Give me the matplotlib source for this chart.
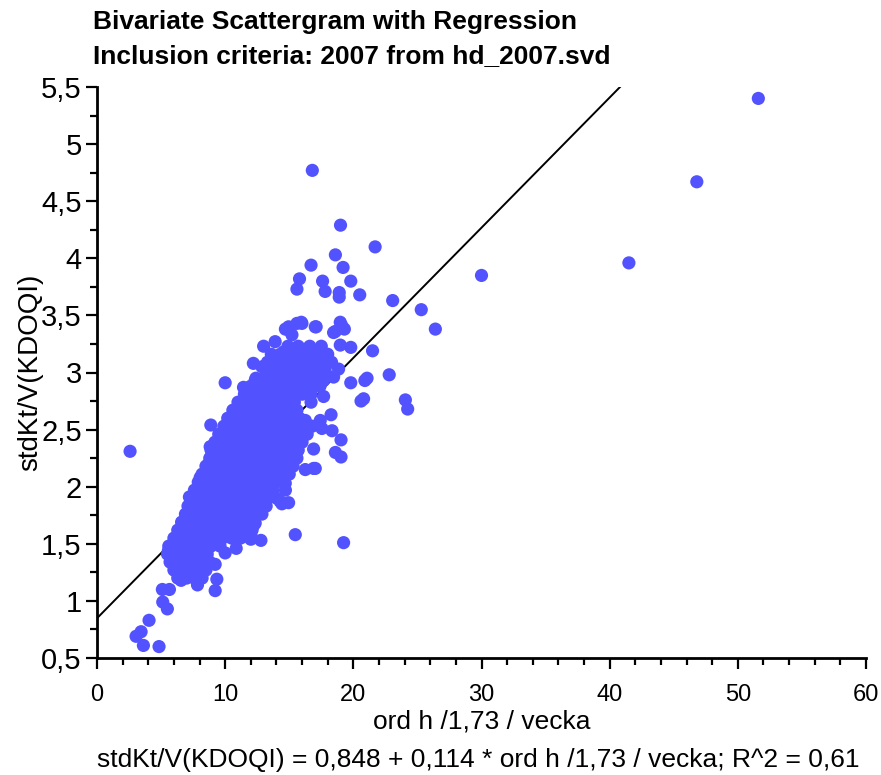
import matplotlib
matplotlib.use("Agg")
import matplotlib.pyplot as plt
from matplotlib.ticker import MultipleLocator, FuncFormatter
from matplotlib import font_manager

# ---------------- data ----------------
title_lines = ["Bivariate Scattergram with Regression",
               "Inclusion criteria: 2007 from hd_2007.svd"]
x_label = "ord h /1,73 / vecka"
y_label = "stdKt/V(KDOQI)"
equation = "stdKt/V(KDOQI) = 0,848 + 0,114 * ord h /1,73 / vecka; R^2 = 0,61"
intercept = 0.848
slope = 0.114

# isolated / edge points (x, y)
outer_x = [2.58, 51.6, 46.8, 41.5, 30.0, 26.4, 25.3, 23.07, 22.8, 24.06, 24.24, 21.5, 21.7,
           19.24, 15.47, 16.8, 19.0, 18.6, 16.7, 19.2, 15.8, 17.6, 19.8, 15.6, 17.8, 18.9, 18.9,
           20.5, 15.94, 17.1, 18.98, 19.3, 18.6, 14.95, 14.7, 19.8, 19.8, 21.07, 20.8, 20.6,
           20.9, 13.0, 13.9, 14.55, 14.82, 15.21, 15.6, 12.2, 12.87, 11.43, 10.0, 12.34, 11.7,
           19.04, 18.6, 19.04, 18.26, 18.34, 17.55, 17.42, 17.68, 16.7, 16.25, 18.85, 18.46,
           17.68, 18.98, 18.46, 19.1, 17.03, 15.99, 16.9, 16.25, 17.03, 16.9, 14.95, 14.3,
           14.69, 12.87, 12.21, 12.09, 12.79, 12.0, 10.86, 10.0, 9.22, 8.88, 9.61, 8.83, 8.70,
           8.05, 7.21, 7.45, 6.48, 10.39, 12.34, 14.43, 11.95, 5.57,
           3.05, 3.44, 3.62, 4.84, 4.06, 5.13, 5.49, 5.10, 5.65, 7.84, 9.22, 9.35, 6.56]
outer_y = [2.31, 5.40, 4.67, 3.96, 3.85, 3.38, 3.55, 3.63, 2.98, 2.76, 2.68, 3.19, 4.10,
           1.51, 1.58, 4.77, 4.29, 4.03, 3.94, 3.92, 3.82, 3.80, 3.80, 3.73, 3.71, 3.70, 3.66,
           3.68, 3.44, 3.40, 3.44, 3.38, 3.36, 3.40, 3.38, 3.22, 2.91, 2.95, 2.77, 2.75,
           2.93, 3.23, 3.27, 3.18, 3.38, 3.33, 3.43, 3.08, 3.05, 2.87, 2.91, 2.93, 2.73,
           2.41, 2.30, 2.26, 2.63, 2.49, 2.51, 2.58, 2.79, 2.74, 2.58, 3.03, 2.96,
           2.93, 3.24, 3.35, 3.41, 3.40, 3.43, 2.16, 2.15, 2.16, 2.33, 1.86, 1.87,
           2.03, 1.76, 1.66, 1.55, 1.53, 1.54, 1.46, 1.42, 1.32, 2.54, 2.44, 2.35, 2.20,
           2.08, 1.91, 1.74, 1.58, 2.52, 1.68, 1.85, 1.56, 1.44,
           0.69, 0.73, 0.61, 0.60, 0.83, 0.99, 0.93, 1.10, 1.10, 1.14, 1.09, 1.19, 1.18]

# dense core, read row by row: y value -> x values
core_rows = {
    1.20: [6.3, 7.0, 7.6, 8.2],
    1.27: [6.0, 6.6, 7.2, 7.9, 8.5],
    1.34: [5.7, 6.3, 6.9, 7.5, 8.1, 8.8],
    1.41: [5.5, 6.1, 6.7, 7.3, 7.9, 8.6],
    1.48: [5.6, 6.3, 6.9, 7.5, 8.2, 8.9, 9.6],
    1.55: [6.0, 6.6, 7.2, 7.8, 8.4, 9.1, 9.8, 10.5, 11.2],
    1.62: [6.3, 6.9, 7.5, 8.1, 8.7, 9.3, 9.9, 10.6, 11.3, 12.1],
    1.69: [6.6, 7.2, 7.8, 8.4, 9.0, 9.6, 10.2, 10.8, 11.5, 12.3],
    1.76: [6.9, 7.5, 8.1, 8.7, 9.3, 9.9, 10.5, 11.1, 11.7, 12.4],
    1.83: [7.1, 7.7, 8.3, 8.9, 9.5, 10.1, 10.7, 11.3, 11.9, 12.5, 13.2],
    1.90: [7.8, 8.4, 9.0, 9.6, 10.2, 10.8, 11.4, 12.0, 12.6, 13.3, 14.0],
    1.97: [7.6, 8.2, 8.8, 9.4, 10.0, 10.6, 11.2, 11.8, 12.4, 13.0, 13.7, 14.7],
    2.04: [7.9, 8.5, 9.1, 9.7, 10.3, 10.9, 11.5, 12.1, 12.7, 13.3, 14.0],
    2.11: [8.2, 8.8, 9.4, 10.0, 10.6, 11.2, 11.8, 12.4, 13.0, 13.6, 14.3, 15.0],
    2.18: [8.5, 9.1, 9.7, 10.3, 10.9, 11.5, 12.1, 12.7, 13.3, 13.9, 14.6, 15.3],
    2.25: [8.8, 9.4, 10.0, 10.6, 11.2, 11.8, 12.4, 13.0, 13.6, 14.2, 14.9, 15.6],
    2.32: [8.9, 9.5, 10.1, 10.7, 11.3, 11.9, 12.5, 13.1, 13.7, 14.3, 15.0, 15.7],
    2.39: [9.2, 9.8, 10.4, 11.0, 11.6, 12.2, 12.8, 13.4, 14.0, 14.6, 15.3, 16.0],
    2.46: [9.5, 10.1, 10.7, 11.3, 11.9, 12.5, 13.1, 13.7, 14.3, 14.9, 15.6, 16.4],
    2.53: [9.9, 10.5, 11.1, 11.7, 12.3, 12.9, 13.5, 14.1, 14.7, 15.4, 16.1, 16.8],
    2.60: [10.2, 10.8, 11.4, 12.0, 12.6, 13.2, 13.8, 14.4, 15.1, 15.8],
    2.67: [10.6, 11.2, 11.8, 12.4, 13.0, 13.6, 14.2, 14.9, 15.6],
    2.74: [11.0, 11.6, 12.2, 12.8, 13.4, 14.0, 14.7, 15.4],
    2.81: [11.5, 12.1, 12.7, 13.3, 13.9, 14.6, 15.3, 16.0, 16.7],
    2.88: [12.0, 12.6, 13.2, 13.9, 14.5, 15.2, 16.0, 16.7, 17.4],
    2.95: [12.4, 13.0, 13.7, 14.4, 15.1, 15.8, 16.5, 17.2],
    3.02: [13.5, 14.2, 14.9, 15.6, 16.4, 17.1, 17.8],
    3.09: [13.3, 14.0, 14.7, 15.4, 16.1, 16.9, 17.6, 18.3],
    3.16: [13.6, 14.3, 15.0, 15.8, 16.5, 17.3, 18.0],
    3.23: [14.9, 15.7, 16.6, 17.5],
}

x_ticks = [0, 10, 20, 30, 40, 50, 60]
y_ticks = [0.5, 1, 1.5, 2, 2.5, 3, 3.5, 4, 4.5, 5, 5.5]

# ---------------- build ----------------
core_x, core_y = [], []
for yv, xs in core_rows.items():
    for xv in xs:
        core_x.append(xv)
        core_y.append(yv)

all_x = outer_x + core_x
all_y = outer_y + core_y

avail = {f.name for f in font_manager.fontManager.ttflist}
base_font = "Liberation Sans" if "Liberation Sans" in avail else "DejaVu Sans"
narrow_font = None
for nm in sorted(avail):
    if "Narrow" in nm and ("Liberation" in nm or "Arial" in nm):
        narrow_font = nm
        break

plt.rcParams['font.family'] = [base_font, 'DejaVu Sans']

if narrow_font:
    nfam = [narrow_font, base_font, 'DejaVu Sans']
    xtick_size, xlabel_size, eq_size = 20, 22, 22
else:
    nfam = [base_font, 'DejaVu Sans']
    xtick_size, xlabel_size, eq_size = 17, 19, 19

W, H = 881, 775
fig = plt.figure(figsize=(W / 100, H / 100), dpi=100)
ax = fig.add_axes([97 / W, 1 - 658 / H, (866 - 97) / W, (658 - 87) / H])

dot_color = "#5252FF"
line_x = [0, 60]
line_y = [intercept + slope * v for v in line_x]
ax.plot(line_x, line_y, color='black', lw=1.4, zorder=2)
ax.scatter(all_x, all_y, s=90, color=dot_color, edgecolors='none', zorder=3)

ax.set_xlim(0, 60)
ax.set_ylim(0.5, 5.5)
ax.set_xticks(x_ticks)
ax.set_yticks(y_ticks)
ax.xaxis.set_minor_locator(MultipleLocator(2))
ax.yaxis.set_minor_locator(MultipleLocator(0.25))

def comma_fmt(v, pos):
    return ("%g" % v).replace('.', ',')
ax.yaxis.set_major_formatter(FuncFormatter(comma_fmt))

for side in ['top', 'right']:
    ax.spines[side].set_visible(False)
for side in ['left', 'bottom']:
    ax.spines[side].set_linewidth(2)

ax.tick_params(axis='both', which='major', direction='out', length=8, width=1.6)
ax.tick_params(axis='both', which='minor', direction='out', length=5, width=1.6)
ax.tick_params(axis='y', which='major', labelsize=21, pad=3)
ax.tick_params(axis='x', which='major', labelsize=xtick_size, pad=11)
for lab in ax.get_xticklabels():
    lab.set_family(nfam)

ax.set_xlabel(x_label, fontsize=xlabel_size, family=nfam)
ax.xaxis.set_label_coords(0.5, -(722 - 658) / (658 - 87))
ax.xaxis.label.set_va('center')
ax.set_ylabel(y_label, fontsize=20)
ax.yaxis.set_label_coords(-(97 - 30) / (866 - 97), 0.5)
ax.yaxis.label.set_va('center')

fig.text(93 / W, 1 - 22 / H, title_lines[0], fontsize=19, fontweight='bold',
         ha='left', va='center')
fig.text(93 / W, 1 - 56 / H, title_lines[1], fontsize=19, fontweight='bold',
         ha='left', va='center')
fig.text(478 / W, 1 - 760 / H, equation, fontsize=eq_size, family=nfam,
         ha='center', va='center')

fig.savefig("out.png", dpi=100)
